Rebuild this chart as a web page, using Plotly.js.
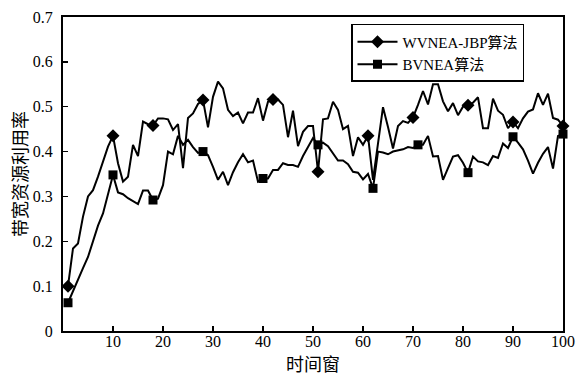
<!DOCTYPE html>
<html>
<head>
<meta charset="utf-8">
<script src="https://cdn.plot.ly/plotly-3.0.1.min.js"></script>
<style>html,body{margin:0;padding:0;background:#fff;}#chart{width:579px;height:376px;}</style>
</head>
<body>
<div id="chart"></div>
<script>
var timeWindow = [1,2,3,4,5,6,7,8,9,10,11,12,13,14,15,16,17,18,19,20,
  21,22,23,24,25,26,27,28,29,30,31,32,33,34,35,36,37,38,39,40,
  41,42,43,44,45,46,47,48,49,50,51,52,53,54,55,56,57,58,59,60,
  61,62,63,64,65,66,67,68,69,70,71,72,73,74,75,76,77,78,79,80,
  81,82,83,84,85,86,87,88,89,90,91,92,93,94,95,96,97,98,99,100];

var wvneaJbp = [0.100,0.184,0.195,0.255,0.300,0.314,0.344,0.377,0.411,0.435,
  0.374,0.333,0.344,0.415,0.390,0.467,0.461,0.458,0.474,0.474,
  0.472,0.448,0.461,0.363,0.475,0.485,0.506,0.515,0.454,0.522,
  0.556,0.541,0.493,0.479,0.487,0.463,0.487,0.487,0.519,0.469,
  0.511,0.516,0.516,0.504,0.432,0.491,0.412,0.444,0.457,0.457,
  0.355,0.472,0.474,0.511,0.493,0.450,0.457,0.390,0.432,0.415,
  0.435,0.337,0.420,0.499,0.455,0.407,0.457,0.468,0.464,0.476,
  0.504,0.535,0.505,0.550,0.550,0.512,0.490,0.508,0.481,0.500,
  0.503,0.509,0.521,0.452,0.452,0.518,0.491,0.482,0.452,0.466,
  0.452,0.474,0.489,0.494,0.530,0.504,0.529,0.475,0.471,0.457];

var bvnea = [0.063,0.090,0.115,0.140,0.165,0.200,0.235,0.262,0.305,0.348,
  0.309,0.305,0.296,0.289,0.283,0.313,0.313,0.292,0.295,0.325,
  0.400,0.394,0.435,0.415,0.426,0.410,0.397,0.400,0.392,0.366,
  0.337,0.355,0.325,0.354,0.376,0.394,0.376,0.380,0.333,0.340,
  0.340,0.359,0.359,0.374,0.370,0.370,0.366,0.390,0.410,0.430,
  0.415,0.420,0.412,0.395,0.380,0.380,0.372,0.355,0.353,0.338,
  0.350,0.318,0.400,0.398,0.394,0.400,0.403,0.405,0.410,0.408,
  0.415,0.415,0.435,0.389,0.390,0.337,0.363,0.389,0.392,0.375,
  0.353,0.389,0.378,0.376,0.370,0.390,0.386,0.418,0.408,0.433,
  0.420,0.405,0.380,0.351,0.375,0.395,0.410,0.362,0.435,0.439];

var wvneaMarkIdx = [1,10,18,28,42,51,61,70,81,90,100];
var bvneaMarkIdx = [1,10,18,28,40,51,62,71,81,90,100];

var seriesNames = ['WVNEA-JBP算法', 'BVNEA算法'];
var xTickVals = [10,20,30,40,50,60,70,80,90,100];
var yTickVals = [0,0.1,0.2,0.3,0.4,0.5,0.6,0.7];
var yTickText = ['0','0.1','0.2','0.3','0.4','0.5','0.6','0.7'];

function pick(arr, idx){ return idx.map(function(i){ return arr[timeWindow.indexOf(i)]; }); }

var serif = '"Liberation Serif", "Times New Roman", "Noto Sans CJK SC", serif';
var lineStyle = {color:'#000', width:2};

var traces = [
  {x: timeWindow, y: wvneaJbp, mode:'lines', line: lineStyle, showlegend:false, hoverinfo:'skip'},
  {x: wvneaMarkIdx, y: pick(wvneaJbp, wvneaMarkIdx), mode:'markers', cliponaxis:false,
   marker:{symbol:'diamond', size:10, color:'#000'}, showlegend:false},
  {x: timeWindow, y: bvnea, mode:'lines', line: lineStyle, showlegend:false, hoverinfo:'skip'},
  {x: bvneaMarkIdx, y: pick(bvnea, bvneaMarkIdx), mode:'markers', cliponaxis:false,
   marker:{symbol:'square', size:9, color:'#000'}, showlegend:false},
  {x:[null], y:[null], mode:'lines+markers', name: seriesNames[0], line: lineStyle,
   marker:{symbol:'diamond', size:10, color:'#000'}},
  {x:[null], y:[null], mode:'lines+markers', name: seriesNames[1], line: lineStyle,
   marker:{symbol:'square', size:9, color:'#000'}}
];

var layout = {
  width:579, height:376,
  margin:{l:63, r:16, t:17, b:45, pad:0},
  paper_bgcolor:'#fff', plot_bgcolor:'#fff',
  font:{family: serif, size:16, color:'#000'},
  showlegend:true,
  legend:{x:0.576, y:0.978, xanchor:'left', yanchor:'top',
    bgcolor:'#fff', bordercolor:'#000', borderwidth:1.5,
    font:{family: serif, size:15, color:'#000'}, tracegroupgap:0, itemwidth:40},
  xaxis:{range:[0,100], tickvals:xTickVals, ticktext:xTickVals.map(String),
    ticks:'inside', ticklen:5, tickwidth:1.5, tickcolor:'#000', ticklabelstandoff:-5,
    showline:true, linecolor:'#000', linewidth:2, mirror:true, showgrid:false, zeroline:false,
    tickfont:{family: serif, size:16}, automargin:false,
    title:{text:'时间窗', font:{family: serif, size:18}, standoff:9}},
  yaxis:{range:[0,0.7], tickvals:yTickVals, ticktext:yTickText,
    ticks:'inside', ticklen:5, tickwidth:1.5, tickcolor:'#000', ticklabelstandoff:5,
    showline:true, linecolor:'#000', linewidth:2, mirror:true, showgrid:false, zeroline:false,
    tickfont:{family: serif, size:16}, automargin:false,
    title:{text:'带宽资源利用率', font:{family: serif, size:18}, standoff:0}}
};

Plotly.newPlot('chart', traces, layout, {staticPlot:true, displayModeBar:false});
</script>
</body>
</html>
